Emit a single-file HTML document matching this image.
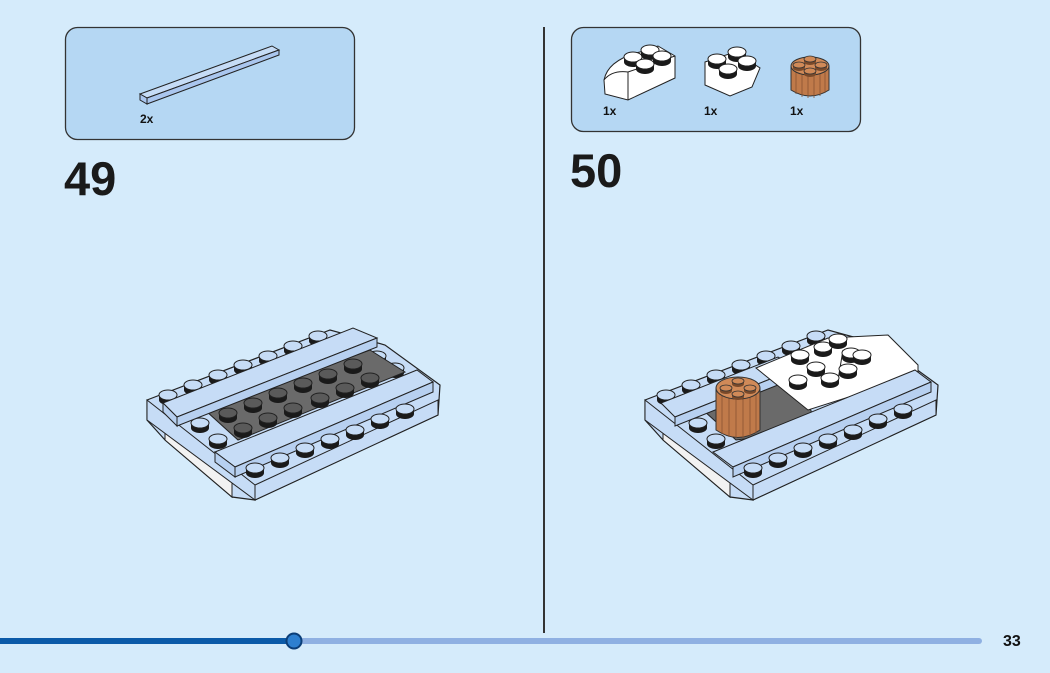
<!DOCTYPE html>
<html><head><meta charset="utf-8"><style>
html,body{margin:0;padding:0}
body{width:1050px;height:673px;background:#d5ebfb;position:relative;overflow:hidden;font-family:"Liberation Sans",sans-serif}
</style></head><body>
<svg width="1050" height="673" viewBox="0 0 1050 673" xmlns="http://www.w3.org/2000/svg" style="position:absolute;left:0;top:0">
<defs>
<g id="s"><path d="M-9,-5 L-9,0 A9,5 0 0 0 9,0 L9,-5 Z" fill="#1a1a1a"/><ellipse cx="0" cy="-5" rx="9" ry="5" fill="#c6dcf6" stroke="#222" stroke-width="1"/></g>
<g id="d"><path d="M-9,-5 L-9,0 A9,5 0 0 0 9,0 L9,-5 Z" fill="#1a1a1a"/><ellipse cx="0" cy="-5" rx="9" ry="5" fill="#5a5a5a" stroke="#222" stroke-width="1"/></g>
<g id="w"><path d="M-9,-5 L-9,0 A9,5 0 0 0 9,0 L9,-5 Z" fill="#1a1a1a"/><ellipse cx="0" cy="-5" rx="9" ry="5" fill="#fff" stroke="#222" stroke-width="1"/></g>
<g id="bs"><path d="M-6,-3 L-6,0 A6,3 0 0 0 6,0 L6,-3 Z" fill="#7a4a2a"/><ellipse cx="0" cy="-3" rx="6" ry="3" fill="#d08a58" stroke="#333" stroke-width="0.8"/></g>
<g id="b">
<polygon points="147,400 330,330 385,345 440,385 438,415 255,500 232,497 165,440 147,420" fill="#c6dcf6" stroke="#222" stroke-width="1.2"/>
<polygon points="165,425 232,482 232,497 165,440" fill="#f2f2f2" stroke="#222"/>
<polygon points="255,485 438,400 438,415 255,500" fill="#c6dcf6" stroke="#222"/>
<polygon points="147,400 255,485 255,500 147,420" fill="#c6dcf6" stroke="#222"/>
<use href="#s" x="168" y="400"/><use href="#s" x="193" y="390"/><use href="#s" x="218" y="380"/><use href="#s" x="243" y="370"/><use href="#s" x="268" y="361"/><use href="#s" x="293" y="351"/><use href="#s" x="318" y="341"/>
<use href="#s" x="377" y="361"/><use href="#s" x="395" y="373"/>
<use href="#s" x="200" y="428"/><use href="#s" x="218" y="444"/>
</g>
</defs>
<rect x="65.5" y="27.5" width="289" height="112" rx="12" fill="#b5d7f3" stroke="#333" stroke-width="1.3"/>
<polygon points="140,94 272,46 279,50 147,98" fill="#c6dcf6" stroke="#222"/>
<polygon points="147,98 279,50 279,55 147,104" fill="#aac6ee" stroke="#222"/>
<polygon points="140,94 147,98 147,104 140,100" fill="#aac6ee" stroke="#222"/>
<text x="140" y="123" font-size="12" font-weight="bold" fill="#111">2x</text>
<text x="64" y="195" font-size="47" font-weight="bold" fill="#1a1a1a">49</text>

<rect x="571.5" y="27.5" width="289" height="104" rx="12" fill="#b5d7f3" stroke="#333" stroke-width="1.3"/>
<path d="M604,80 Q608,60 640,52 L658,46 L675,56 L675,78 L628,100 L605,94 Z" fill="#fff" stroke="#222"/>
<path d="M604,80 Q612,70 628,72 L628,100" fill="none" stroke="#222"/>
<line x1="628" y1="72" x2="675" y2="56" stroke="#222"/>
<use href="#w" x="633" y="62"/><use href="#w" x="650" y="55"/><use href="#w" x="645" y="69"/><use href="#w" x="662" y="61"/>
<polygon points="705,62 735,52 760,68 752,87 730,96 705,85" fill="#fff" stroke="#222"/>
<use href="#w" x="717" y="64"/><use href="#w" x="728" y="74"/><use href="#w" x="737" y="57"/><use href="#w" x="747" y="66"/>
<path d="M791,66 L791,90 Q810,102 829,90 L829,66 Z" fill="#c07a4a" stroke="#333"/>
<g stroke="#8a5430" stroke-width="0.8"><line x1="796" y1="70" x2="796" y2="94"/><line x1="802" y1="72" x2="802" y2="97"/><line x1="808" y1="73" x2="808" y2="98"/><line x1="814" y1="73" x2="814" y2="98"/><line x1="820" y1="72" x2="820" y2="96"/><line x1="825" y1="70" x2="825" y2="93"/></g>
<ellipse cx="810" cy="66" rx="19" ry="9" fill="#d08a58" stroke="#333"/>
<use href="#bs" x="810" y="62"/><use href="#bs" x="799" y="68"/><use href="#bs" x="821" y="68"/><use href="#bs" x="810" y="74"/>
<text x="603" y="115" font-size="12" font-weight="bold" fill="#111">1x</text>
<text x="704" y="115" font-size="12" font-weight="bold" fill="#111">1x</text>
<text x="790" y="115" font-size="12" font-weight="bold" fill="#111">1x</text>
<text x="570" y="187" font-size="47" font-weight="bold" fill="#1a1a1a">50</text>

<line x1="544" y1="27" x2="544" y2="633" stroke="#333" stroke-width="2"/>

<!-- left build -->
<use href="#b"/>
<polygon points="205,410 370,350 405,372 238,440" fill="#6a6a6a" stroke="#222"/>
<use href="#d" x="228" y="418"/><use href="#d" x="253" y="408"/><use href="#d" x="278" y="398"/><use href="#d" x="303" y="388"/><use href="#d" x="328" y="379"/><use href="#d" x="353" y="369"/>
<use href="#d" x="243" y="433"/><use href="#d" x="268" y="423"/><use href="#d" x="293" y="413"/><use href="#d" x="320" y="403"/><use href="#d" x="345" y="393"/><use href="#d" x="370" y="383"/>
<polygon points="163,403 353,328 377,338 177,417" fill="#c6dcf6" stroke="#222"/>
<polygon points="177,417 377,338 377,347 177,426" fill="#b7d0f0" stroke="#222"/>
<polygon points="163,403 177,417 177,426 163,412" fill="#b7d0f0" stroke="#222"/>
<polygon points="215,452 417,370 433,382 235,467" fill="#c6dcf6" stroke="#222"/>
<polygon points="235,467 433,382 433,392 235,477" fill="#b7d0f0" stroke="#222"/>
<polygon points="215,452 235,467 235,477 215,462" fill="#b7d0f0" stroke="#222"/>
<use href="#s" x="255" y="473"/><use href="#s" x="280" y="463"/><use href="#s" x="305" y="453"/><use href="#s" x="330" y="444"/><use href="#s" x="355" y="435"/><use href="#s" x="380" y="424"/><use href="#s" x="405" y="414"/>

<!-- right build -->
<g transform="translate(498,0)">
<use href="#b"/>
<polygon points="205,410 300,375 320,430 238,440" fill="#6a6a6a" stroke="#222"/>
<polygon points="163,403 280,357 300,368 177,417" fill="#c6dcf6" stroke="#222"/>
<polygon points="177,417 300,368 300,377 177,426" fill="#b7d0f0" stroke="#222"/>
<path d="M258,368 L330,338 L390,335 L420,365 L420,375 L310,410 Z" fill="#fff" stroke="#222"/>
<line x1="340" y1="380" x2="345" y2="350" stroke="#222"/>
<use href="#w" x="302" y="360"/><use href="#w" x="325" y="352"/><use href="#w" x="340" y="344"/><use href="#w" x="353" y="358"/><use href="#w" x="318" y="372"/><use href="#w" x="332" y="383"/><use href="#w" x="350" y="374"/><use href="#w" x="364" y="360"/><use href="#w" x="300" y="385"/>
<polygon points="215,452 417,370 433,382 235,467" fill="#c6dcf6" stroke="#222"/>
<polygon points="235,467 433,382 433,392 235,477" fill="#b7d0f0" stroke="#222"/>
<path d="M218,388 L218,430 Q240,445 262,430 L262,388 Z" fill="#c07a4a" stroke="#333"/>
<g stroke="#8a5430" stroke-width="0.8"><line x1="224" y1="394" x2="224" y2="434"/><line x1="231" y1="396" x2="231" y2="437"/><line x1="238" y1="397" x2="238" y2="438"/><line x1="245" y1="397" x2="245" y2="438"/><line x1="252" y1="396" x2="252" y2="436"/><line x1="258" y1="394" x2="258" y2="433"/></g>
<ellipse cx="240" cy="388" rx="22" ry="11" fill="#d08a58" stroke="#333"/>
<use href="#bs" x="240" y="384"/><use href="#bs" x="228" y="391"/><use href="#bs" x="252" y="391"/><use href="#bs" x="240" y="397"/>
<use href="#s" x="255" y="473"/><use href="#s" x="280" y="463"/><use href="#s" x="305" y="453"/><use href="#s" x="330" y="444"/><use href="#s" x="355" y="435"/><use href="#s" x="380" y="424"/><use href="#s" x="405" y="414"/>
</g>

<rect x="0" y="638" width="982" height="6" rx="3" fill="#8fb0e2"/>
<rect x="0" y="638" width="294" height="6" fill="#0b5aa8"/>
<circle cx="294" cy="641" r="7.5" fill="#2d7fd0" stroke="#0b3e78" stroke-width="2"/>
<text x="1003" y="646" font-size="16" font-weight="bold" fill="#111">33</text>
</svg>
</body></html>
